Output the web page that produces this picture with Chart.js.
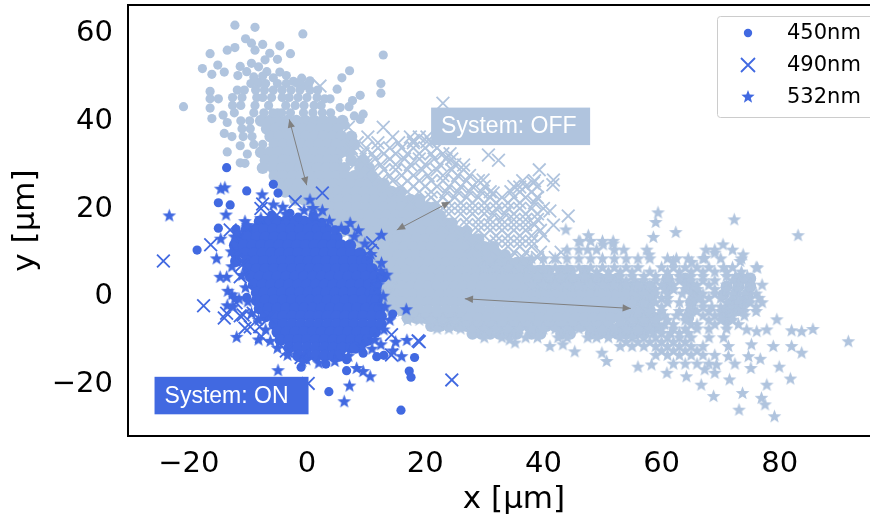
<!DOCTYPE html>
<html>
<head>
<meta charset="utf-8">
<style>
  html, body { margin: 0; padding: 0; background: #fff; overflow: hidden; width: 870px; height: 519px; }
  canvas { display: block; }
</style>
<script src="https://cdn.jsdelivr.net/npm/chart.js@4/dist/chart.umd.min.js"></script>
</head>
<body>
<canvas id="scatter-chart" width="900" height="519"></canvas>
<script>
const xTicks = [-20, 0, 20, 40, 60, 80];
const yTicks = [-20, 0, 20, 40, 60];
const seriesNames = ["450nm", "490nm", "532nm"];

// rows are [y, x, x, x ...]; the dense parts are estimates
const on450Rows = [
  [16.5,-8,-6.5,-5,-3.5,-2,-.5,1],
  [14.7,-10.2,-8.7,-7.2,-5.7,-4.2,-2.7,-1.2,.3,1.8,3.3],
  [12.9,-11.5,-10,-8.5,-7,-5.5,-4,-2.5,-1,.5,2,3.5,5],
  [11.1,-12.2,-10.7,-9.2,-7.7,-6.2,-4.7,-3.2,-1.7,-.2,1.3,2.8,4.3,5.8,7.3],
  [9.3,-12,-10.5,-9,-7.5,-6,-4.5,-3,-1.5,0,1.5,3,4.5,6,7.5,9],
  [7.5,-12,-10.2,-8.7,-7.2,-5.7,-4.2,-2.7,-1.2,.3,1.8,3.3,4.8,6.3,7.8,9.3,10.2],
  [5.7,-10,-8.5,-7,-5.5,-4,-2.5,-1,.5,2,3.5,5,6.5,8,9.5,11],
  [3.9,-9.5,-8,-6.5,-5,-3.5,-2,-.5,1,2.5,4,5.5,7,8.5,10,11.5,12.8],
  [2.1,-9,-7.5,-6,-4.5,-3,-1.5,0,1.5,3,4.5,6,7.5,9,10.5,11.7],
  [.3,-8.5,-7.2,-5.7,-4.2,-2.7,-1.2,.3,1.8,3.3,4.8,6.3,7.8,9.3,10.8,11.6],
  [-1.5,-8.5,-7,-5.5,-4,-2.5,-1,.5,2,3.5,5,6.5,8,9.5,11,11.8],
  [-3.3,-8,-6.5,-5,-3.5,-2,-.5,1,2.5,4,5.5,7,8.5,10,11.5,12.3],
  [-5.1,-7,-5.5,-4,-2.5,-1,.5,2,3.5,5,6.5,8,9.5,11,12.5],
  [-6.9,-5.5,-4,-2.5,-1,.5,2,3.5,5,6.5,8,9.5,11,12.5],
  [-8.7,-5,-3.5,-2,-.5,1,2.5,4,5.5,7,8.5,10,11.5],
  [-10.5,-4.5,-3,-1.5,0,1.5,3,4.5,6,7.5,9,10.2],
  [-12.3,-3,-1.5,0,1.5,3,4.5,6,7.5,8.2],
  [-14.1,-1.5,0,1.5,3,4.5,5.5]
];
const on450Extra = [
  [-18.6,10],[-13.6,28.8],[-10.2,23.5],[-15,20.8],[-13,20.3],[-15,15],[-5.7,25],[-4.9,23],[-10.2,-.8],
  [14.5,-4.6],[18.2,-14.5],[17.3,-17.6],[17.6,-19],[15.9,-26.5],[3.7,-22.3],[6.7,-17.5],[6.7,-15],
  [3.2,-16],[-1,-16.7],[-2.9,18.4],[4.7,14.6],[9.5,-13.5],[11.8,-14.3],[13,-14],[-1.5,17.5],[1,17.8],
  [2.5,16.3],[-6,18],[6.5,14.5],[-12,14.8]
];
const on490 = [
  [-24.3,7.5],[-16.3,11.2],[-17.5,-2.7],[-14,-5.5],[-13.6,-4.4],[-10.8,-4.8],[-10.5,-7.8],[-9.6,-7.5],
  [-7.7,-9.7],[-9.1,-4.4],[2.6,23],[-7.8,19.5],[-5.1,18],[-13,14.6],[-12,7.8],[-11,6.6],[-11.3,3.9],
  [11.1,11.7],[10.7,9.9],[14.3,-9.3],[14.3,-13.9],[18.8,-10.7],[24.5,-19.6],[19,-10.9],[.2,-20.4],
  [-6.5,-5.5],[-12,-2],[-7.5,20.5],[-2,21],[-11.3,-5],[-8,-7.5],[-3.5,-13],[-1,-14.5]
];
const on532 = [
  [-23.3,17.8],[-14.6,23.9],[-13.9,24.2],[-13.7,18],[-7.6,22.6],[-5.7,20.3],[-4.1,19.8],[.5,21.4],
  [-.5,19],[2.6,19],[-10.5,16.5],[-14.6,12.5],[-15.3,8],[-14.7,3.8],[-13.6,3.8],[-12.7,-.2],[-12.2,-1],
  [-13.5,-2.7],[-11.9,-9.9],[-8.2,-10.5],[7.3,16.1],[8.7,14.4],[12.6,13.4],[13.5,4.3],[12.9,-.5],
  [16.8,-3.6],[16.9,-10.6],[16,-14.3],[10.7,-18.9],[9.5,-17.7],[8.4,-17],[7.2,-21],[6.3,-24.6],
  [-4.9,-17.5],[-.1,-15],[-12.5,-3],[-13.4,.6],[1,19.5],[12,2],[15,-11],[14.5,-13],[12.5,5.2],[-11.5,-1.2],
  [-12.3,13],[-12.8,9.6],[-12.7,6.2],[-11,4.2],[-10.4,1.4],[-10,-1.8],[-9.4,-4.5],[-8.2,-6],[-7,-8.2],
  [-6.2,-10.8],[-5,-12.4],[-3.3,-14],[-.8,-15.4],[2,-15.8],[4.7,-15.4],[7,-14.2],[9.4,-12],[11.5,-10.5],
  [13,-8.2],[14,-6],[13.2,-3],[12.6,7],[10.8,9],[9.8,11.4],[8,13],[5.8,15],[3.8,16.6],[1.5,17.8],
  [-3.6,18.2],[-7.8,17.2],[-10,15.6],[-11.8,14],[11,-12.6],[12.5,-11.6]
];

const off450Upper = [
  [48,-9.5,-8.2,-7,-5,-3.5,-1.6,.3],
  [46.5,-11.8,-10.6,-8.7,-7.2,-5.7,-4.2,-2.7,-1.2,.5,1.8],
  [44.8,-12.6,-11,-8.5,-7.5,-6,-4.2,-3,-1.5,0,1.7],
  [43,-12.6,-11.2,-8.8,-6.5,-3.6,-2,-.5,1.2,2.4],
  [41.3,-12.3,-9,-7.3,-5.8,-5,-4.3,-2.8,-.6,1,2.6,4]
];
const off450Rows = [
  [39.5,-7.8,-6.3,-4.8,-3.3,-1.8,-.3,1.2,2.7,4.2,6],
  [37.7,-6.8,-5.3,-3.8,-2.3,-.8,.7,2.2,3.7,5.2],
  [35.9,-6.2,-4.7,-3.2,-1.7,-.2,1.3,2.8,4.3,5.8,7.5],
  [34.1,-5.5,-4,-2.5,-1,.5,2,3.5,5,6.5,8],
  [32.3,-7.8,-6.3,-4.8,-3.3,-1.8,-.3,1.2,2.7,4.2,5.7,7.2],
  [30.5,-7,-5.5,-4,-2.5,-1,.5,2,3.5,5,7.5,9.5],
  [28.7,-7.5,-5.7,-4.2,-2.7,-1.2,.3,1.8,3.3,4.8,6.3,9,10.5],
  [26.9,-5.5,-4,-2.5,-1,.5,2,3.5,5,6.5,8,9.5,11],
  [25.1,-4.5,-3,-1.5,0,1.5,3,4.5,6,7.5,9,10.5,12,13],
  [23.3,-3.7,-2.2,-.7,.8,2.3,3.8,5.3,6.8,8.3,9.8,11.3,12.8,14.3,15.8],
  [21.5,-2,-.5,1,2.5,4,5.5,7,8.5,10,11.5,13,14.5,16,17.5,19],
  [19.7,1,2.5,4,5.5,7,8.5,10,11.5,13,14.5,16,17.5,19,20.5,21.5],
  [17.9,3,4.5,6,7.5,9,10.5,12,13.5,15,16.5,18,19.5,21,22.5],
  [16.1,4,5.5,7,8.5,10,11.5,13,14.5,16,17.5,19,20.5,22,23.5,24.5],
  [14.3,6,7.5,9,10.5,12,13.5,15,16.5,18,19.5,21,22.5,24,25.5,27],
  [12.5,8,9.5,11,12.5,14,15.5,17,18.5,20,21.5,23,24.5,26,27.5,29],
  [10.7,9,10.5,12,13.5,15,16.5,18,19.5,21,22.5,24,25.5,27,28.5,30,31.5],
  [8.9,9.5,11,12.5,14,15.5,17,18.5,20,21.5,23,24.5,26,27.5,29,30.5,32,33.5],
  [7.1,10,11.5,13,14.5,16,17.5,19,20.5,22,23.5,25,26.5,28,29.5,31,32.5,34,35.5,37],
  [5.3,10.8,12.3,13.8,15.3,16.8,18.3,19.8,21.3,22.8,24.3,25.8,27.3,28.8,30.3,31.8,33.3,34.8,36.3,37.8,39.3,40.8,43,44.5,47],
  [3.5,12,13.5,15,16.5,18,19.5,21,22.5,24,25.5,27,28.5,30,31.5,33,34.5,36,37.5,39,40.5,42,43.5,45,46.5,48,49.5,51,52.5,61,64,73,75],
  [1.7,13,14.5,16,17.5,19,20.5,22,23.5,25,26.5,28,29.5,31,32.5,34,35.5,37,38.5,40,41.5,43,44.5,46,47.5,49,50.5,52,53.5,55,56.5,58,61,65,71,73,75],
  [-.1,13.5,15,16.5,18,19.5,21,22.5,24,25.5,27,28.5,30,31.5,33,34.5,36,37.5,39,40.5,42,43.5,45,46.5,48,49.5,51,52.5,54,55.5,57,58.5,66,70.5,72.5,74.5],
  [-1.9,13,14.5,16,17.5,19,20.5,22,23.5,25,26.5,28,29.5,31,32.5,34,35.5,37,38.5,40,41.5,43,44.5,46,47.5,49,50.5,52,53.5,55,56.5,58,65,72,74],
  [-3.7,14.5,16,17.5,19,20.5,22,23.5,25,26.5,28,29.5,31,32.5,34,35.5,37,38.5,40,41.5,43,44.5,46,47.5,49,50.5,52,53.5,55,56.5,58,65,71,73],
  [-5.5,17,18.5,20,21.5,23,24.5,26,27.5,29,30.5,32,33.5,35,36.5,38,39.5,41,42.5,44,45.5,47,48.5,50,51.5,53,54.5,56,57.5,59,64.5,71],
  [-7.3,21,22.5,24,25.5,27,28.5,30,31.5,33,34.5,36,37.5,39,40.5,42,43.5,45,46.5,48,49.5,51,53,54.5,56,57.5,59],
  [-9.1,28,29.5,31,32.5,34,35.5,38,39.5,43,44.5,48,49.5,51,52.5,54,55.5,57]
];
const off450Extra = [
  [-12.2,61.3],[-8.8,60.8],[-.7,59.3],[12.9,54.5],[-16.4,54.8],[-13.5,55.6],[-12.2,56.2],[-10.4,58.2],
  [-9.4,57.2],[-8.8,55.6],[-7.5,56.9],[-4.6,56.6],[-2.8,54.8],[-6.3,54.9],[-7.1,53.4],[-5,53.5],
  [-17.7,51.4],[-16.1,50.1],[-15.1,52.2],[-14,50.6],[-11.3,51.9],[-11.7,49.8],[-9.4,52.6],[-8.2,51.8],
  [-10.2,50.7],[-6.8,50.7],[-9,49.5],[-7.5,49.7],[-8.2,48.2],[-5.7,49.3],[-4.6,50.6],[-3.5,49.8],
  [-2.3,48.5],[-.9,49.2],[.5,48.6],[-.7,47.4],[5.9,49.3],[7.2,50.9],[5.1,46.7],[12.5,48],[12.5,45.8],
  [9,45.3],[7.7,44.1],[7.1,42.7],[5.6,42.5],[3,44.5],[3.9,44.5],[-20.9,42.7],[-16.4,46.2],[-16.4,44.5],
  [-15,44.5],[-16.4,42.4],[-16.1,40],[-14.2,40.8],[-13.5,39.1],[-14,36.6],[-12.7,35.9],[-13.5,32.4],
  [-11.3,29.9],[-10.5,29.8],[-10.1,31.9],[-11.3,33.8],[9.5,41],[8,40.6],[9,39.8],[6.5,38.5],
  [-11.2,39.5],[-9.7,39.5],[-11,37.7],[-9.6,37.7],[-10.8,35.9],[-9.3,35.9],[-9,34.1],[-7.5,34.1]
];
const off490Rows = [
  [38,7,12.9],
  [35.8,10.3,14.5,17.5,19,20.3],
  [34.5,8.5,12,15.5,18,21],
  [33.3,7.5,10,12,14,16,18,20,22],
  [32,6.5,9.5,11,13,15,17,19,21,23],
  [30.8,9,11.5,14,16.5,19,21.5,23.5,24.5],
  [29.5,8,10,12.5,15,17.5,20,22.5,25],
  [28.3,11,13,15,17,19.5,22,24.5,26.5],
  [27,10,12,14,16,18,20.5,23,25.5,27.5],
  [25.8,12.5,14.5,17,19,21,23,25,27,29,36.5,38.5],
  [24.5,13.5,16,18,20,22,24,26,28,30,35,37,39],
  [23.3,15,17,19,21,23.5,25.5,27.5,29.5,31,34.5,36,38],
  [22,21,23,25,27,29,31,33,35,37,39],
  [20.8,17.5,20,22,24,26,28,30,32,34,36,38.5],
  [19.5,24,26,28,30,32,34,36,38,40],
  [18.3,20,22,24,26,28,30,31.5,33.5,35,37,39],
  [17,27,29,31,33,35,37,39],
  [15.8,23,25,27,29,31,33,35,37,38.5],
  [14.5,29,31,33,35,37,39.5],
  [13.3,26,28,30,32,34,36,38,40],
  [12,32,34,36,38],
  [10.8,28,30,32,34,36,38],
  [9.5,33,35,37,39.5,43],
  [8.3,30,32.5,34.5,36.5,39,42]
];
const off490Extra = [
  [23,43.5],[30.7,31.7],[32.4,30.5],[39.3,28.3],[41.6,24.9],[41.7,26],[44.2,17.8],[41.1,18.9],[41.7,15.7],
  [2.2,47.4],[18,35],[20.3,34.7],[24.2,32],[26.5,29.4],[29.8,26],[31.5,23],[36,24.4],[38.3,25.3],[38.9,22]
];
const off532Rows = [
  [12,46,48,50,51.8],
  [10,44,46,47.5,49,52,53.6,57.5,67.5,69,72],
  [8,38,40,42,44,46,48,50,52,54,56,58,61,62.5,64.5,67,70,73.5],
  [6,30,32,34,36,38,40,42,44,46,48,50,52,54,56,60,62,64,66,68,70.5,72,76],
  [5,49,51,53,55,58,61,63,65,67,69,71,73.5],
  [4,39,41,43,45,47,49,51,53,55,57,59,61,63,65,67,71,72.5,74.5],
  [3,54,55.5,57,59,61,63,65,67,69,72,74],
  [2,14,38,40,42,44,46,48,50,52,54,56,58,60,62,64,66,68,71,73,75,77],
  [1,59,60.5,62,64,66,69,71,73,75],
  [0,13,57,59,61,63.5,65,67,69,72,74,76],
  [-1,60,61,65.5,66.5,68,70,73,75,76.5],
  [-2,13,55,57,59,61,63,65,67,71,73,75,77],
  [-3,60,65,67,68.5,70,72,74,76],
  [-4,14,16,54,56,58,60,63,65,66,68,70,72,74,76],
  [-5,59.5,60.5,62.5,64,67,69,70,72,74],
  [-6,17,19,21,23,25,55,57,59,61,64,68,70,72],
  [-7,60.5,62,65,66,69,71,73],
  [-8,22,24,26,28,30,32,34,36,38,40,42,44,46,48,50,52,54,56,58,60,62,64,66,68,71],
  [-9,58.5,60,61.5,63,64.5],
  [-10,30,33,37,39,42.5,44,47.5,49,51,53,55,57,59,61,63,65,68,70.5],
  [-11,54,56,58,60,62,64],
  [-12,53,55,57,59,61,63,65,67],
  [-13,60,62,64,66],
  [-14,59,61,63,65,67,69],
  [-16,62,64,66,68]
];
const off532Extra = [
  [59.4,18.5],[59,16.3],[58.6,12.9],[62.4,14],[72.3,16.9],[83.1,13.3],[91.6,-10.9],[85.6,-8.1],[83.7,-8.6],
  [82,-8.4],[79.5,-5.9],[77.8,-8.2],[76.1,-8.6],[74.4,-8.2],[82,-12],[83.7,-13.5],[79.9,-16.7],[81.8,-19.4],
  [77.8,-20.8],[73.7,-22.7],[76.9,-23.8],[77.5,-25.3],[73.1,-26.5],[79.1,-28],[68.8,-23.4],[66.7,-20.8],
  [71.5,-19.6],[75.1,-17],[72.4,-16],[76.7,-14.9],[74.7,-14.3],[75.2,-11.6],[78.9,-12],[71.3,-12],[71.3,-14.3],
  [69,-18.1],[67.3,-17.3],[69.3,-16.2],[64.2,-18.9],[60.9,-18.1],[58.3,-16.2],[56,-16.7],[50.7,-15.4],
  [49.9,-13.5],[45.3,-13.2],[41.1,-12],[35.2,-11.2],[43.3,-11.6],[34.3,-10.5],[76.2,5.9],[73.8,8.9],[73.3,7.4],
  [70.4,11.2],[67.3,8.1],[69,9.3],[65.1,7.2],[62,7.4],[57.9,8.9],[51.8,11.4],[50.1,11.2],[47.6,13.3],[46.2,11.9],[43.8,14.6]
];

const labelBoxes = [
  { text: "System: OFF", x: 21.0, y: 42.5, w: 159, fill: "#B0C4DE" },
  { text: "System: ON", x: -25.8, y: -18.9, w: 154, fill: "#4169E1" }
];
const arrows = [
  [-3, 39.8, -.05, 24.8],
  [15.2, 14.6, 24.2, 21],
  [26.7, -1.1, 54.8, -3.3]
];

function rowsToPoints(rows) {
  const points = [];
  rows.forEach(r => {
    for (let i = 1; i < r.length; i++) points.push({ x: r[i], y: r[0] });
  });
  return points;
}
function pairsToPoints(pairs) {
  return pairs.map(p => ({ x: p[0], y: p[1] }));
}

function starImage(color, r) {
  const c = document.createElement("canvas");
  c.width = c.height = Math.ceil(r * 2) + 2;
  const g = c.getContext("2d");
  const mid = c.width / 2;
  g.fillStyle = color;
  g.beginPath();
  for (let i = 0; i < 10; i++) {
    const rad = i % 2 ? r * 0.42 : r;
    const a = -Math.PI / 2 + i * Math.PI / 5;
    g.lineTo(mid + rad * Math.cos(a), mid + rad * Math.sin(a));
  }
  g.closePath();
  g.fill();
  return c;
}

const ON = "#4169E1";
const OFF = "#B0C4DE";

// kind 0 dots, 1 crosses, 2 stars, 3 dots of the packed middle parts
function dataset(points, color, kind) {
  const d = { data: points, showLine: false, borderColor: color, backgroundColor: color, pointBorderWidth: 0 };
  if (kind === 0) { d.pointStyle = "circle"; d.pointRadius = 4.6; }
  if (kind === 3) { d.pointStyle = "circle"; d.pointRadius = 6; }
  if (kind === 1) { d.pointStyle = "crossRot"; d.pointRadius = 9; d.pointBorderWidth = 1.8; d.pointBorderColor = color; }
  if (kind === 2) { d.pointStyle = starImage(color, 7.2); d.pointRadius = 7; }
  return d;
}

const annotationsPlugin = {
  id: "annotations_and_legend",
  afterDatasetsDraw: (chart) => {
    const ctx = chart.ctx;
    const sx = chart.scales.x, sy = chart.scales.y, area = chart.chartArea;
    ctx.save();

    // top spine
    ctx.strokeStyle = "#000";
    ctx.lineWidth = 2;
    ctx.beginPath();
    ctx.moveTo(area.left, area.top);
    ctx.lineTo(area.right, area.top);
    ctx.stroke();

    // arrows
    arrows.forEach(a => {
      const x1 = sx.getPixelForValue(a[0]), y1 = sy.getPixelForValue(a[1]);
      const x2 = sx.getPixelForValue(a[2]), y2 = sy.getPixelForValue(a[3]);
      const ang = Math.atan2(y2 - y1, x2 - x1);
      ctx.strokeStyle = "#808080";
      ctx.fillStyle = "#808080";
      ctx.lineWidth = 1;
      ctx.beginPath();
      ctx.moveTo(x1, y1);
      ctx.lineTo(x2, y2);
      ctx.stroke();
      [[x1, y1, ang], [x2, y2, ang + Math.PI]].forEach(h => {
        ctx.beginPath();
        ctx.moveTo(h[0], h[1]);
        ctx.lineTo(h[0] + 9 * Math.cos(h[2] + 0.42), h[1] + 9 * Math.sin(h[2] + 0.42));
        ctx.lineTo(h[0] + 9 * Math.cos(h[2] - 0.42), h[1] + 9 * Math.sin(h[2] - 0.42));
        ctx.closePath();
        ctx.fill();
      });
    });

    // System: ON / OFF boxes
    ctx.font = '23px "Liberation Sans"';
    ctx.textBaseline = "middle";
    ctx.textAlign = "left";
    labelBoxes.forEach(b => {
      const left = sx.getPixelForValue(b.x), top = sy.getPixelForValue(b.y);
      ctx.fillStyle = b.fill;
      ctx.fillRect(left, top, b.w, 37.5);
      ctx.fillStyle = "#fff";
      ctx.fillText(b.text, left + 10, top + 19.5);
    });

    // legend
    ctx.fillStyle = "rgba(255,255,255,0.9)";
    ctx.strokeStyle = "#ccc";
    ctx.lineWidth = 1;
    ctx.beginPath();
    ctx.roundRect(717.5, 16.5, 200, 101, 3);
    ctx.fill();
    ctx.stroke();
    const rowY = [33, 65, 97];
    ctx.font = '21px "DejaVu Sans"';
    seriesNames.forEach((name, i) => {
      const y = rowY[i];
      ctx.fillStyle = ON;
      ctx.strokeStyle = ON;
      if (i === 0) {
        ctx.beginPath();
        ctx.arc(748, y, 4.2, 0, Math.PI * 2);
        ctx.fill();
      } else if (i === 1) {
        ctx.lineWidth = 1.8;
        ctx.beginPath();
        ctx.moveTo(741, y - 7); ctx.lineTo(755, y + 7);
        ctx.moveTo(755, y - 7); ctx.lineTo(741, y + 7);
        ctx.stroke();
      } else {
        const s = starImage(ON, 7);
        ctx.drawImage(s, 748 - s.width / 2, y - s.height / 2);
      }
      ctx.fillStyle = "#000";
      ctx.fillText(name, 787, y + 1);
    });
    ctx.restore();
  }
};

function zeroPadding(scale) {
  scale.paddingTop = 0;
  scale.paddingBottom = 0;
  scale.paddingLeft = 0;
  scale.paddingRight = 0;
}

new Chart(document.getElementById("scatter-chart").getContext("2d"), {
  type: "scatter",
  data: {
    datasets: [
      dataset(pairsToPoints(on532), ON, 2),
      dataset(pairsToPoints(on490), ON, 1),
      dataset(pairsToPoints(on450Extra), ON, 0),
      dataset(rowsToPoints(on450Rows), ON, 3),
      dataset(rowsToPoints(off532Rows).concat(pairsToPoints(off532Extra)), OFF, 2),
      dataset(rowsToPoints(off490Rows).concat(pairsToPoints(off490Extra)), OFF, 1),
      dataset(pairsToPoints(off450Extra).concat(rowsToPoints(off450Upper)), OFF, 0),
      dataset(rowsToPoints(off450Rows), OFF, 3)
    ]
  },
  plugins: [annotationsPlugin],
  options: {
    responsive: false,
    animation: false,
    // the plot runs on past the right edge of the window, as in the picture
    layout: { autoPadding: false, padding: { top: 5, right: 0, bottom: 0, left: 0 } },
    plugins: { legend: { display: false }, tooltip: { enabled: false } },
    scales: {
      x: {
        type: "linear",
        min: -30.29,
        max: 100.34,
        afterBuildTicks: (scale) => { scale.ticks = xTicks.map(v => ({ value: v })); },
        afterFit: (scale) => { scale.height = 83; zeroPadding(scale); },
        grid: { display: false, drawTicks: true, tickLength: 6, tickColor: "#000", tickWidth: 1.5 },
        border: { display: true, color: "#000", width: 2 },
        ticks: {
          color: "#000", font: { family: "DejaVu Sans", size: 29 }, padding: 5, maxRotation: 0, autoSkip: false,
          callback: (v) => String(v).replace("-", "\u2212")
        },
        title: { display: true, text: "x [\u00b5m]", color: "#000", font: { family: "DejaVu Sans", size: 31 }, padding: { top: 0, bottom: 0 } }
      },
      y: {
        min: -32.4,
        max: 65.9,
        afterBuildTicks: (scale) => { scale.ticks = yTicks.map(v => ({ value: v })); },
        afterFit: (scale) => { scale.width = 128; zeroPadding(scale); },
        grid: { display: false, drawTicks: true, tickLength: 6, tickColor: "#000", tickWidth: 1.5 },
        border: { display: true, color: "#000", width: 2 },
        ticks: {
          color: "#000", font: { family: "DejaVu Sans", size: 29 }, padding: 9, labelOffset: 3, autoSkip: false,
          callback: (v) => String(v).replace("-", "\u2212")
        },
        title: { display: true, text: "y [\u00b5m]", color: "#000", font: { family: "DejaVu Sans", size: 31 }, padding: { top: 7, bottom: 0 } }
      }
    }
  }
});
</script>
</body>
</html>
